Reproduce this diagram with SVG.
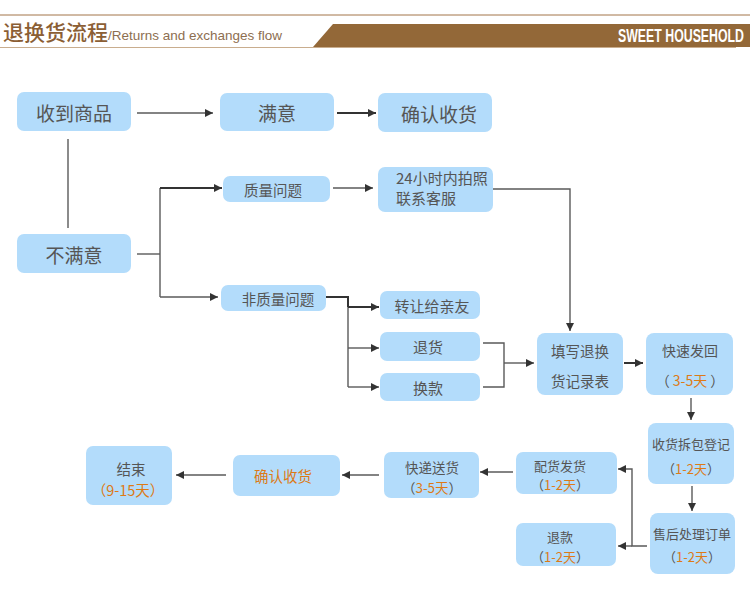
<svg xmlns="http://www.w3.org/2000/svg" width="750" height="595" viewBox="0 0 750 595">
<style>
.box{fill:#b3dcfb}
.t{font-family:"Noto Sans CJK SC","Liberation Sans",sans-serif;fill:#555;text-anchor:middle;dominant-baseline:central}
.o{fill:#dd7a16}
.ln{stroke:#5a5a5a;stroke-width:1.4;fill:none}
.lb{stroke:#333;stroke-width:2;fill:none}
</style>
<defs>
<marker id="ah" viewBox="0 0 10 10" refX="10" refY="5" markerWidth="8" markerHeight="10" markerUnits="userSpaceOnUse" orient="auto">
<path d="M0,0 L10,5 L0,10 z" fill="#333"/>
</marker>
</defs>
<rect width="750" height="595" fill="#fff"/>
<g id="header">
<line x1="0" y1="15" x2="750" y2="15" stroke="#a27548" stroke-width="1"/>
<polygon points="333,24 750,24 750,47 313,47" fill="#936838"/>
<line x1="0" y1="47.5" x2="736" y2="47.5" stroke="#c9ad8e" stroke-width="1"/>
<text x="3" y="40" font-family="Noto Sans CJK SC,Liberation Sans,sans-serif" font-size="21" font-weight="500" fill="#8b5e34">退换货流程<tspan font-family="Liberation Sans,Arial,sans-serif" font-size="13.5" font-weight="normal" fill="#8d6e50">/Returns and exchanges flow</tspan></text>
<text x="744" y="42" text-anchor="end" font-family="Liberation Sans,Arial,sans-serif" font-weight="bold" font-size="18" fill="#fff" textLength="126" lengthAdjust="spacingAndGlyphs">SWEET HOUSEHOLD</text>
</g>
<g id="connectors">
<line class="ln" x1="137" y1="113" x2="213" y2="113" marker-end="url(#ah)"/>
<line class="lb" x1="337" y1="113" x2="376" y2="113" marker-end="url(#ah)"/>
<line class="ln" x1="68" y1="139" x2="68" y2="228"/>
<line class="ln" x1="137" y1="254" x2="160" y2="254"/>
<line class="ln" x1="160" y1="188" x2="160" y2="297"/>
<line class="lb" x1="160" y1="188" x2="222" y2="188" marker-end="url(#ah)"/>
<line class="ln" x1="160" y1="297" x2="218" y2="297" marker-end="url(#ah)"/>
<line class="ln" x1="333" y1="188" x2="373" y2="188" marker-end="url(#ah)"/>
<polyline class="lb" points="326,297 348,297 348,307"/>
<line class="ln" x1="348" y1="307" x2="348" y2="387"/>
<line class="lb" x1="348" y1="307" x2="379" y2="307" marker-end="url(#ah)"/>
<line class="ln" x1="348" y1="348" x2="379" y2="348" marker-end="url(#ah)"/>
<line class="ln" x1="348" y1="387" x2="379" y2="387" marker-end="url(#ah)"/>
<polyline class="ln" points="493,189 570,189 570,331" marker-end="url(#ah)"/>
<polyline class="ln" points="483,343 504,343 504,387 483,387"/>
<line class="ln" x1="504" y1="363" x2="534" y2="363" marker-end="url(#ah)"/>
<line class="lb" x1="624" y1="363" x2="643" y2="363" marker-end="url(#ah)"/>
<line class="ln" x1="691" y1="398" x2="691" y2="420" marker-end="url(#ah)"/>
<line class="ln" x1="692" y1="486" x2="692" y2="511" marker-end="url(#ah)"/>
<polyline class="ln" points="647,546 632,546 632,469 618,469" marker-end="url(#ah)"/>
<line class="ln" x1="632" y1="546" x2="618" y2="546" marker-end="url(#ah)"/>
<line class="ln" x1="513" y1="472" x2="480" y2="472" marker-end="url(#ah)"/>
<line class="ln" x1="379" y1="475" x2="342" y2="475" marker-end="url(#ah)"/>
<line class="ln" x1="226" y1="475" x2="176" y2="475" marker-end="url(#ah)"/>
</g>
<g id="n-receive"><rect class="box" x="17" y="92" width="114" height="39" rx="7"/><text class="t" x="74" y="112" font-size="19">收到商品</text></g>
<g id="n-satisfied"><rect class="box" x="220" y="93" width="114" height="38" rx="7"/><text class="t" x="277" y="112" font-size="19">满意</text></g>
<g id="n-confirm"><rect class="box" x="378" y="93" width="114" height="39" rx="7"/><text class="t" x="439" y="113" font-size="19">确认收货</text></g>
<g id="n-unsatisfied"><rect class="box" x="17" y="234" width="114" height="39" rx="7"/><text class="t" x="74" y="254" font-size="19">不满意</text></g>
<g id="n-quality"><rect class="box" x="223" y="176" width="107" height="26" rx="7"/><text class="t" x="273" y="189" font-size="14.5">质量问题</text></g>
<g id="n-photo"><rect class="box" x="378" y="167" width="115" height="45" rx="7"/><text class="t" x="396" y="177" font-size="15" style="text-anchor:start">24小时内拍照</text><text class="t" x="396" y="197" font-size="15" style="text-anchor:start">联系客服</text></g>
<g id="n-nonquality"><rect class="box" x="221" y="285" width="105" height="26" rx="7"/><text class="t" x="278" y="298" font-size="14.5">非质量问题</text></g>
<g id="n-transfer"><rect class="box" x="380" y="291" width="100" height="28" rx="7"/><text class="t" x="432" y="305" font-size="15">转让给亲友</text></g>
<g id="n-return"><rect class="box" x="380" y="332" width="100" height="29" rx="7"/><text class="t" x="428" y="346" font-size="15">退货</text></g>
<g id="n-exchange"><rect class="box" x="380" y="373" width="100" height="28" rx="7"/><text class="t" x="428" y="387" font-size="15">换款</text></g>
<g id="n-form"><rect class="box" x="537" y="333" width="86" height="62" rx="8"/><text class="t" x="580" y="350" font-size="14.5">填写退换</text><text class="t" x="580" y="380" font-size="14.5">货记录表</text></g>
<g id="n-sendback"><rect class="box" x="646" y="333" width="87" height="62" rx="8"/><text class="t" x="690" y="350" font-size="14">快速发回</text><text class="t" x="690" y="380" font-size="14">（ <tspan class="o">3-5天</tspan> ）</text></g>
<g id="n-unpack"><rect class="box" x="648" y="423" width="86" height="61" rx="8"/><text class="t" x="691" y="443" font-size="13">收货拆包登记</text><text class="t" x="691" y="468" font-size="13">（<tspan class="o">1-2天</tspan>）</text></g>
<g id="n-process"><rect class="box" x="650" y="513" width="85" height="61" rx="8"/><text class="t" x="692" y="533" font-size="13">售后处理订单</text><text class="t" x="692" y="556" font-size="13">（<tspan class="o">1-2天</tspan>）</text></g>
<g id="n-ship"><rect class="box" x="516" y="452" width="101" height="42" rx="7"/><text class="t" x="560" y="465" font-size="13">配货发货</text><text class="t" x="560" y="484" font-size="13">（<tspan class="o">1-2天</tspan>）</text></g>
<g id="n-refund"><rect class="box" x="516" y="523" width="100" height="43" rx="7"/><text class="t" x="560" y="536" font-size="13">退款</text><text class="t" x="560" y="556" font-size="13">（<tspan class="o">1-2天</tspan>）</text></g>
<g id="n-express"><rect class="box" x="384" y="452" width="95" height="46" rx="7"/><text class="t" x="432" y="467" font-size="13.5">快递送货</text><text class="t" x="432" y="487" font-size="13.5">（<tspan class="o">3-5天</tspan>）</text></g>
<g id="n-confirm2"><rect class="box" x="233" y="455" width="107" height="41" rx="7"/><text class="t o" x="283" y="475" font-size="14.5">确认收货</text></g>
<g id="n-end"><rect class="box" x="86" y="446" width="86" height="59" rx="7"/><text class="t" x="131" y="468" font-size="14.5">结束</text><text class="t" x="128" y="489" font-size="14.5"><tspan class="o">（9-15天）</tspan></text></g>
</svg>
